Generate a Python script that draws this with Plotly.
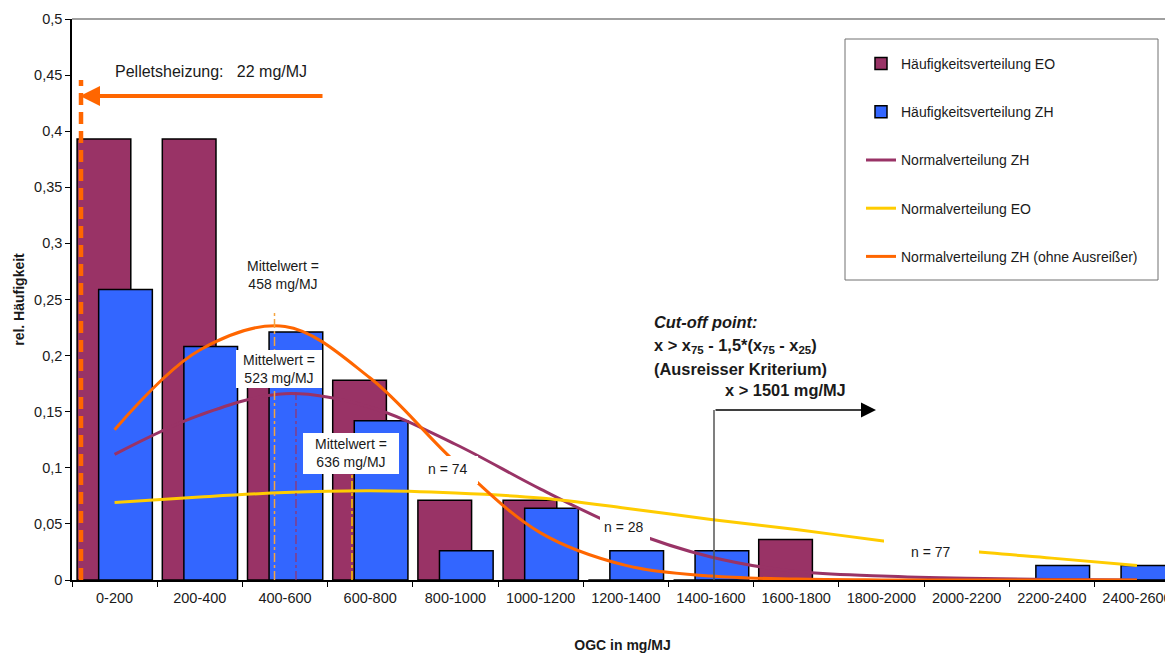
import plotly.graph_objects as go

# ---------------- data ----------------
categories = ["0-200", "200-400", "400-600", "600-800", "800-1000", "1000-1200",
              "1200-1400", "1400-1600", "1600-1800", "1800-2000", "2000-2200",
              "2200-2400", "2400-2600"]
eo_freq = [0.393, 0.393, 0.180, 0.178, 0.071, 0.071, 0, 0, 0.036, 0, 0, 0, 0]
zh_freq = [0.259, 0.208, 0.221, 0.142, 0.026, 0.064, 0.026, 0.026, 0, 0, 0, 0.013, 0.013]
norm_zh = [0.112, 0.147, 0.166, 0.154, 0.121, 0.081, 0.045, 0.0205, 0.0075, 0.0036, 0.0015, 0.0004, 0.0001]
norm_eo = [0.069, 0.074, 0.078, 0.0795, 0.0775, 0.073, 0.064, 0.054, 0.045, 0.035, 0.026, 0.0195, 0.013]
norm_zh_clean = [0.134, 0.205, 0.226, 0.180, 0.105, 0.042, 0.013, 0.0035, 0.0008, 0.0001, 0, 0, 0]
y_tick_vals = [0, 0.05, 0.1, 0.15, 0.2, 0.25, 0.3, 0.35, 0.4, 0.45, 0.5]

# ---------------- geometry helpers (screen pixel -> axis units) ----------------
OFF = 8                      # page body margin of the browser
SW, SH = 1173, 653           # screen size
PL, PR, PT, PB = 72, 1173, 19, 580   # plot area on screen
CAT_W = 85.2
X0 = -0.5
X1 = X0 + (PR - PL) / CAT_W
Y_MAX = 0.5

W = SW - OFF
H = SH - OFF
L = PL - OFF
T = PT - OFF
R = W - (PR - OFF)
B = H - (PB - OFF)


def dx(px):
    return X0 + (px - PL) / CAT_W


def dy(py):
    return (PB - py) / (PB - PT) * Y_MAX


def px_paper(px):
    return (px - PL) / (PR - PL)


def py_paper(py):
    return (PB - py) / (PB - PT)


FONT = "Liberation Sans, Arial, sans-serif"
MAROON = "#993366"
BLUE = "#3366FF"
YELLOW = "#FFCC00"
ORANGE = "#FF6600"
TXT = "#1a1a1a"

fig = go.Figure()
fig.add_trace(go.Bar(x=categories, y=eo_freq, name="Häufigkeitsverteilung EO",
                     marker=dict(color=MAROON, line=dict(color="black", width=1.5)),
                     width=0.63, offset=-0.44, legendgroup="a"))
fig.add_trace(go.Bar(x=categories, y=zh_freq, name="Häufigkeitsverteilung ZH",
                     marker=dict(color=BLUE, line=dict(color="black", width=1.5)),
                     width=0.63, offset=-0.187, legendgroup="b"))
fig.add_trace(go.Scatter(x=categories, y=norm_zh, name="Normalverteilung ZH", mode="lines",
                         line=dict(color=MAROON, width=3, shape="spline", smoothing=1),
                         legendgroup="c"))
fig.add_trace(go.Scatter(x=categories, y=norm_eo, name="Normalverteilung EO", mode="lines",
                         line=dict(color=YELLOW, width=3, shape="spline", smoothing=1),
                         legendgroup="d"))
fig.add_trace(go.Scatter(x=categories, y=norm_zh_clean, name="Normalverteilung ZH (ohne Ausreißer)",
                         mode="lines",
                         line=dict(color=ORANGE, width=3, shape="spline", smoothing=1),
                         legendgroup="e"))

shapes = []
# legend frame
shapes.append(dict(type="rect", xref="paper", yref="paper",
                   x0=px_paper(845), x1=px_paper(1158), y0=py_paper(280), y1=py_paper(39),
                   line=dict(color="#707070", width=1), fillcolor="white", layer="below"))
# top frame line
shapes.append(dict(type="line", xref="paper", yref="paper", x0=0, x1=1, y0=1, y1=1,
                   line=dict(color="#808080", width=1.5), layer="above"))
# pellet heating dashed line
shapes.append(dict(type="line", xref="x", yref="y", x0=dx(81), x1=dx(81), y0=0, y1=dy(80),
                   line=dict(color=ORANGE, width=4.5, dash="12px,7px"), layer="above"))
# mean value lines
shapes.append(dict(type="line", xref="x", yref="y", x0=dx(274.5), x1=dx(274.5), y0=0, y1=dy(310),
                   line=dict(color="#F5A540", width=1.5, dash="dashdot"), layer="above"))
shapes.append(dict(type="line", xref="x", yref="y", x0=dx(296), x1=dx(296), y0=0, y1=dy(392),
                   line=dict(color=MAROON, width=1.2, dash="dashdot"), layer="above"))
shapes.append(dict(type="line", xref="x", yref="y", x0=dx(352), x1=dx(352), y0=0, y1=dy(472),
                   line=dict(color=YELLOW, width=1.5, dash="dashdot"), layer="above"))
# cut-off vertical line
shapes.append(dict(type="line", xref="x", yref="y", x0=dx(714), x1=dx(714), y0=0, y1=dy(410),
                   line=dict(color="#555555", width=1.5), layer="above"))
# white label boxes
for (a, b, c, d) in [(236, 322, 350, 388), (303, 399, 433, 474), (424, 478, 456, 484),
                     (600, 650, 516, 541), (884, 979, 537, 573)]:
    shapes.append(dict(type="rect", xref="x", yref="y", x0=dx(a), x1=dx(b), y0=dy(d), y1=dy(c),
                       fillcolor="white", line=dict(width=0), layer="above"))

ann = []


def text(px, py, s, size=14, anchor="center"):
    ann.append(dict(x=dx(px), y=dy(py), xref="x", yref="y", text=s, showarrow=False,
                    xanchor=anchor, yanchor="middle", font=dict(size=size, color=TXT, family=FONT)))


text(283, 275, "Mittelwert =<br>458 mg/MJ")
text(279, 369, "Mittelwert =<br>523 mg/MJ")
text(351, 453, "Mittelwert =<br>636 mg/MJ")
text(448, 469, "n = 74")
text(624, 527, "n = 28")
text(931, 552, "n = 77")
text(113, 71, "Pelletsheizung:\u00a0\u00a0\u00a022 mg/MJ", size=16, anchor="left")
text(652, 322, "<b><i>Cut-off point:</i></b>", size=16.4, anchor="left")
text(652, 346, "<b>x > x<sub>75</sub> - 1,5*(x<sub>75</sub> - x<sub>25</sub>)</b>", size=16.4, anchor="left")
text(652, 369, "<b>(Ausreisser Kriterium)</b>", size=16.4, anchor="left")
text(723, 390, "<b>x > 1501 mg/MJ</b>", size=16.4, anchor="left")

# arrows
ann.append(dict(x=dx(80), y=dy(96), ax=dx(324), ay=dy(96), xref="x", yref="y", axref="x", ayref="y",
                text="", showarrow=True, arrowhead=2, arrowsize=1, arrowwidth=4, arrowcolor=ORANGE))
ann.append(dict(x=dx(876), y=dy(410), ax=dx(714), ay=dy(410), xref="x", yref="y", axref="x", ayref="y",
                text="", showarrow=True, arrowhead=2, arrowsize=2, arrowwidth=1.5, arrowcolor="black"))

fig.update_layout(
    width=W, height=H,
    margin=dict(l=L, r=R, t=T, b=B, pad=0),
    paper_bgcolor="white", plot_bgcolor="white",
    barmode="overlay",
    separators=",.",
    font=dict(family=FONT, size=14, color=TXT),
    shapes=shapes,
    annotations=ann,
    legend=dict(x=px_paper(861), y=py_paper(48), xanchor="left", yanchor="top",
                bgcolor="rgba(0,0,0,0)", borderwidth=0, tracegroupgap=27,
                font=dict(size=14, family=FONT, color=TXT)),
    xaxis=dict(type="category", range=[X0, X1], tickson="boundaries", ticks="outside",
               ticklen=5, tickcolor="black", showline=True, linecolor="black", linewidth=2,
               showgrid=False, zeroline=False, tickfont=dict(size=14.5, color=TXT),
               ticklabelstandoff=4,
               title=dict(text="<b>OGC in mg/MJ</b>", font=dict(size=14, color=TXT), standoff=37)),
    yaxis=dict(range=[0, Y_MAX], tickvals=y_tick_vals, ticks="outside", ticklen=5, tickcolor="black",
               showline=True, linecolor="black", linewidth=1.5, showgrid=False, zeroline=False,
               tickfont=dict(size=14.5, color=TXT),
               title=dict(text="<b>rel. Häufigkeit</b>", font=dict(size=14, color=TXT), standoff=6)),
)

fig.write_html("out.html")
